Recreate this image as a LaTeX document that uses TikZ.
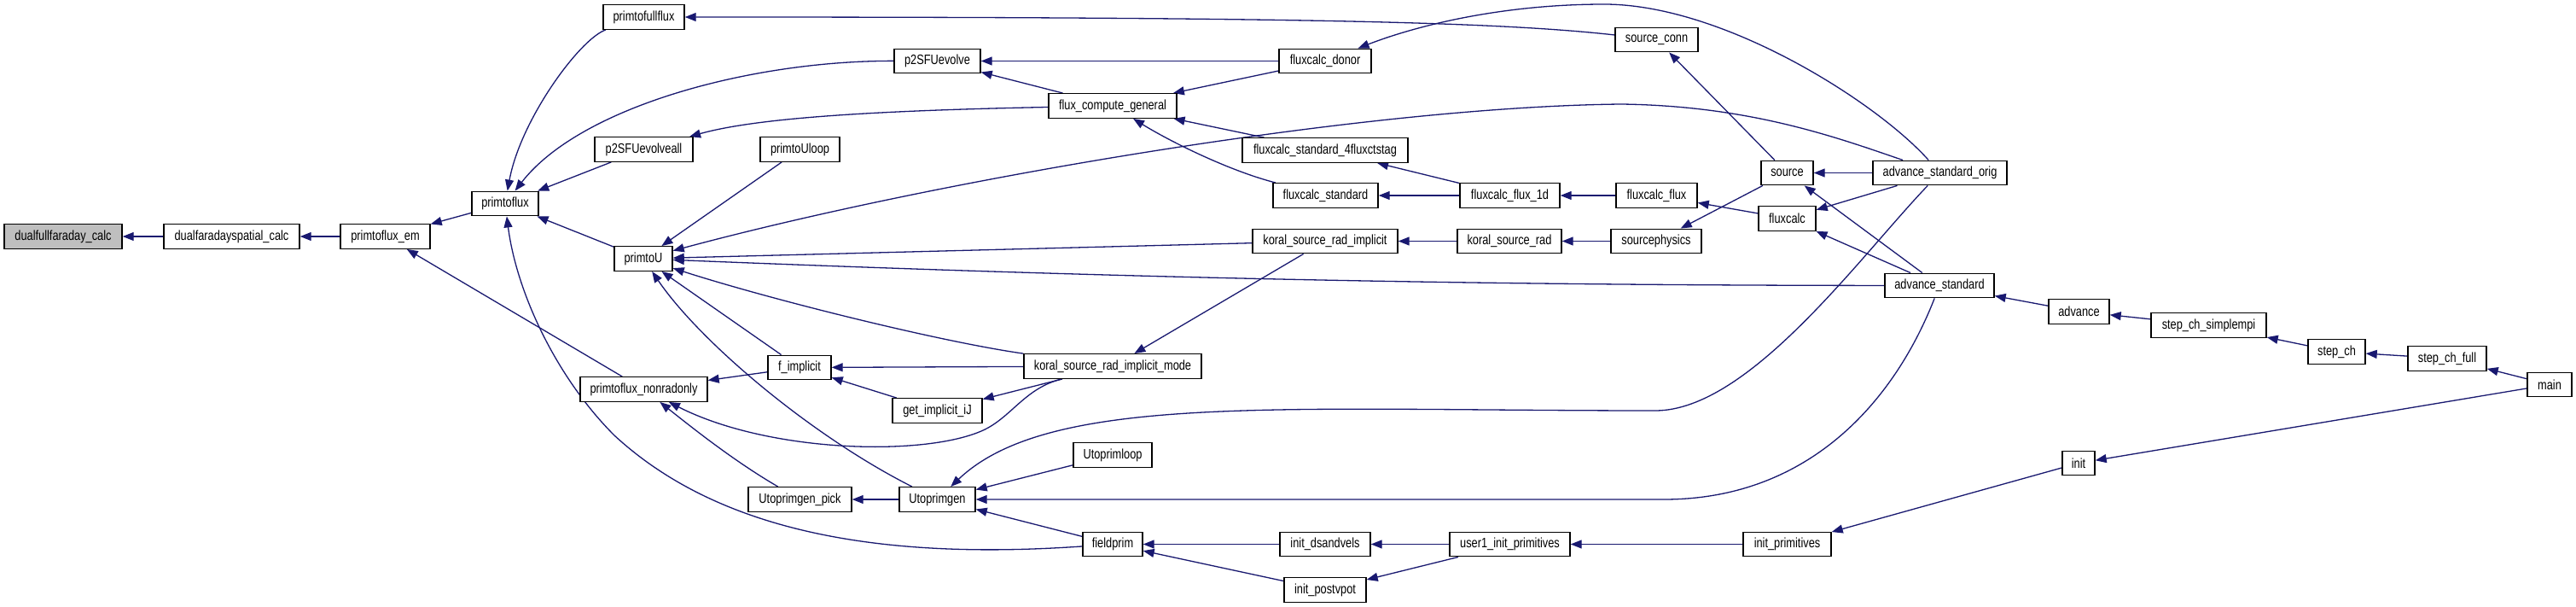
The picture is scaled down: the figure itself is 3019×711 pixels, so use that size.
\documentclass[tikz,border=0pt]{standalone}
\usepackage{fontspec}
\setmainfont{Liberation Sans}[FakeStretch=0.8]
\usetikzlibrary{arrows.meta}
\definecolor{edgec}{HTML}{191970}
\definecolor{grayfill}{HTML}{BFBFBF}
\pgfdeclarelayer{background}
\pgfsetlayers{background,main}
\begin{document}
\begin{tikzpicture}[x=1pt,y=-1pt,
  box/.style={draw=black, line width=1.4pt, fill=white, inner sep=0pt,
    minimum height=28.5pt, font=\fontsize{16}{18}\selectfont},
  edge/.style={draw=edgec, line width=1.3pt, -{Triangle[length=13pt,width=10pt]}}]
\useasboundingbox (0,0) rectangle (3019,711);
\node[box, fill=grayfill, minimum width=138pt] (dff) at (74,277) {dualfullfaraday\_calc};
\node[box, minimum width=159pt] (dfs) at (271.5,277) {dualfaradayspatial\_calc};
\node[box, minimum width=105pt] (pem) at (451.5,277) {primtoflux\_em};
\node[box, minimum width=78pt] (pfl) at (592,238.5) {primtoflux};
\node[box, minimum width=95pt] (pff) at (754.5,20) {primtofullflux};
\node[box, minimum width=115pt] (pea) at (754.5,175) {p2SFUevolveall};
\node[box, minimum width=68pt] (pU) at (754,303) {primtoU};
\node[box, minimum width=149pt] (pnr) at (754.5,456) {primtoflux\_nonradonly};
\node[box, minimum width=101pt] (pe) at (1098.5,71.5) {p2SFUevolve};
\node[box, minimum width=150pt] (fcg) at (1304,124) {flux\_compute\_general};
\node[box, minimum width=93pt] (pUl) at (937.5,175) {primtoUloop};
\node[box, minimum width=74pt] (fi) at (937,430.5) {f\_implicit};
\node[box, minimum width=208pt] (ksrim) at (1304,429) {koral\_source\_rad\_implicit\_mode};
\node[box, minimum width=105pt] (gij) at (1098.5,481) {get\_implicit\_iJ};
\node[box, minimum width=92pt] (Uloop) at (1304,533) {Utoprimloop};
\node[box, minimum width=121pt] (Upick) at (937.5,585) {Utoprimgen\_pick};
\node[box, minimum width=89pt] (Ug) at (1098.5,585) {Utoprimgen};
\node[box, minimum width=70pt] (fp) at (1304,637.5) {fieldprim};
\node[box, minimum width=108pt] (fcd) at (1553,71.5) {fluxcalc\_donor};
\node[box, minimum width=194pt] (fcs4) at (1553,176) {fluxcalc\_standard\_4fluxctstag};
\node[box, minimum width=123pt] (fcs) at (1553.5,229) {fluxcalc\_standard};
\node[box, minimum width=170pt] (ksri) at (1553,282.5) {koral\_source\_rad\_implicit};
\node[box, minimum width=106pt] (ids) at (1553,637.5) {init\_dsandvels};
\node[box, minimum width=96pt] (ipv) at (1553,691) {init\_postvpot};
\node[box, minimum width=97pt] (sc) at (1941.5,46.5) {source\_conn};
\node[box, minimum width=117pt] (ff1) at (1769.5,229) {fluxcalc\_flux\_1d};
\node[box, minimum width=95pt] (ff) at (1941.5,229) {fluxcalc\_flux};
\node[box, minimum width=122pt] (ksr) at (1769,282.5) {koral\_source\_rad};
\node[box, minimum width=106pt] (sp) at (1941,282.5) {sourcephysics};
\node[box, minimum width=141pt] (u1) at (1769.5,637.5) {user1\_init\_primitives};
\node[box, minimum width=103pt] (ip) at (2094.5,637.5) {init\_primitives};
\node[box, minimum width=61pt] (src) at (2094.5,202.5) {source};
\node[box, minimum width=67pt] (fc) at (2094.5,256) {fluxcalc};
\node[box, minimum width=157pt] (aso) at (2273.5,202.5) {advance\_standard\_orig};
\node[box, minimum width=128pt] (as) at (2273,334.5) {advance\_standard};
\node[box, minimum width=71pt] (adv) at (2436.5,365) {advance};
\node[box, minimum width=135pt] (scs) at (2588.5,381) {step\_ch\_simplempi};
\node[box, minimum width=67pt] (sch) at (2738.5,412) {step\_ch};
\node[box, minimum width=92pt] (scf) at (2868,420) {step\_ch\_full};
\node[box, minimum width=52pt] (main) at (2988,450.5) {main};
\node[box, minimum width=38pt] (init) at (2436,542.5) {init};
\begin{pgfonlayer}{background}
\fill[white] (0,0) rectangle (3019,711);
\draw[edge] (dfs) -- (dff);
\draw[edge] (pem) -- (dfs);
\draw[edge] (pfl) -- (pem);
\draw[edge] (pnr) -- (pem);
\draw[edge] (pff) .. controls (680,45) and (610,140) .. (pfl);
\draw[edge] (pe) .. controls (880,71) and (680,125) .. (pfl);
\draw[edge] (pea) -- (pfl);
\draw[edge] (pU) -- (pfl);
\draw[edge] (fp) .. controls (1050,655) and (850,630) .. (720,510) .. controls (650,440) and (605,340) .. (pfl);
\draw[edge] (fcg) -- (pe);
\draw[edge] (fcd) -- (pe);
\draw[edge] (fcg) .. controls (1000,130) and (880,140) .. (pea);
\draw[edge] (fcd) -- (fcg);
\draw[edge] (fcs4) -- (fcg);
\draw[edge] (fcs) .. controls (1440,200) and (1370,165) .. (fcg);
\draw[edge] (pUl) -- (pU);
\draw[edge] (aso) .. controls (2150,160) and (2050,124) .. (1900,122) .. controls (1600,125) and (1100,210) .. (pU);
\draw[edge] (ksri) -- (pU);
\draw[edge] (as) .. controls (1700,334) and (1300,325) .. (pU);
\draw[edge] (Ug) .. controls (950,510) and (820,400) .. (pU);
\draw[edge] (fi) -- (pU);
\draw[edge] (ksrim) .. controls (1100,400) and (900,350) .. (pU);
\draw[edge] (ksrim) -- (fi);
\draw[edge] (gij) -- (fi);
\draw[edge] (ksrim) -- (gij);
\draw[edge] (fi) -- (pnr);
\draw[edge] (ksrim) .. controls (1200,455) and (1185,490) .. (1150,505) .. controls (1080,535) and (900,530) .. (pnr);
\draw[edge] (Upick) .. controls (860,540) and (810,500) .. (pnr);
\draw[edge] (Ug) -- (Upick);
\draw[edge] (aso) .. controls (2180,300) and (2050,481) .. (1940,481) .. controls (1500,481) and (1230,460) .. (Ug);
\draw[edge] (as) .. controls (2220,470) and (2120,585) .. (1950,585) -- (Ug);
\draw[edge] (Uloop) -- (Ug);
\draw[edge] (fp) -- (Ug);
\draw[edge] (ids) -- (fp);
\draw[edge] (ipv) -- (fp);
\draw[edge] (u1) -- (ids);
\draw[edge] (u1) -- (ipv);
\draw[edge] (ip) -- (u1);
\draw[edge] (init) -- (ip);
\draw[edge] (main) -- (init);
\draw[edge] (main) -- (scf);
\draw[edge] (scf) -- (sch);
\draw[edge] (sch) -- (scs);
\draw[edge] (scs) -- (adv);
\draw[edge] (adv) -- (as);
\draw[edge] (sc) .. controls (1750,25) and (1500,20) .. (pff);
\draw[edge] (src) -- (sc);
\draw[edge] (aso) .. controls (2200,120) and (2020,5) .. (1880,5) .. controls (1760,5) and (1660,30) .. (fcd);
\draw[edge] (ff1) -- (fcs4);
\draw[edge] (ff1) -- (fcs);
\draw[edge] (ff) -- (ff1);
\draw[edge] (fc) -- (ff);
\draw[edge] (ksr) -- (ksri);
\draw[edge] (sp) -- (ksr);
\draw[edge] (src) -- (sp);
\draw[edge] (ksri) -- (ksrim);
\draw[edge] (aso) -- (src);
\draw[edge] (aso) -- (fc);
\draw[edge] (as) -- (src);
\draw[edge] (as) -- (fc);
\end{pgfonlayer}
\end{tikzpicture}
\end{document}
